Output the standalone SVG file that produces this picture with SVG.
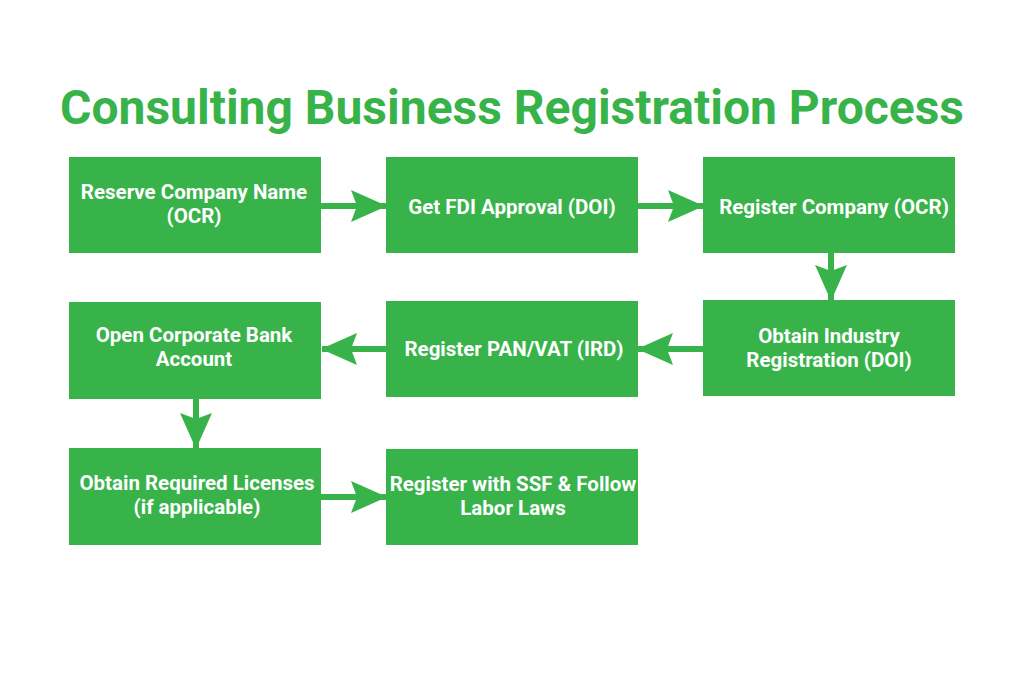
<svg xmlns="http://www.w3.org/2000/svg" width="1024" height="683" viewBox="0 0 1024 683">
<style>
.box{fill:#37b34a}
.t{font-family:Roboto,"Liberation Sans",sans-serif;font-weight:bold;font-size:20.5px;fill:#ffffff;text-anchor:middle}
.title{font-family:Roboto,"Liberation Sans",sans-serif;font-weight:bold;font-size:48px;fill:#37b34a;text-anchor:middle}
.c{stroke:#37b34a;stroke-width:6;fill:none}
</style>
<defs>
<marker id="ah" viewBox="0 0 36 32" refX="35" refY="16" markerWidth="36" markerHeight="32" orient="auto" markerUnits="userSpaceOnUse">
<path d="M0,0 L36,16 L0,32 L6,16 Z" fill="#37b34a"/>
</marker>
</defs>
<rect width="1024" height="683" fill="#ffffff"/>
<text class="title" x="512" y="124">Consulting Business Registration Process</text>
<g id="connectors">
<line class="c" x1="321" y1="206" x2="386" y2="206" marker-end="url(#ah)"/>
<line class="c" x1="638" y1="206" x2="703" y2="206" marker-end="url(#ah)"/>
<line class="c" x1="831" y1="253" x2="831" y2="300" marker-end="url(#ah)"/>
<line class="c" x1="703" y1="349" x2="638" y2="349" marker-end="url(#ah)"/>
<line class="c" x1="386" y1="349" x2="322" y2="349" marker-end="url(#ah)"/>
<line class="c" x1="196" y1="399" x2="196" y2="448" marker-end="url(#ah)"/>
<line class="c" x1="321" y1="497" x2="386" y2="497" marker-end="url(#ah)"/>
</g>
<g id="n1"><rect class="box" x="69" y="157" width="252" height="96"/>
<text class="t" x="194" y="199">Reserve Company Name</text><text class="t" x="194" y="223">(OCR)</text></g>
<g id="n2"><rect class="box" x="386" y="157" width="252" height="96"/>
<text class="t" x="512" y="214">Get FDI Approval (DOI)</text></g>
<g id="n3"><rect class="box" x="703" y="157" width="252" height="96"/>
<text class="t" x="834" y="214">Register Company (OCR)</text></g>
<g id="n4"><rect class="box" x="703" y="300" width="252" height="96"/>
<text class="t" x="829" y="343">Obtain Industry</text><text class="t" x="829" y="367">Registration (DOI)</text></g>
<g id="n5"><rect class="box" x="386" y="301" width="252" height="96"/>
<text class="t" x="514" y="356">Register PAN/VAT (IRD)</text></g>
<g id="n6"><rect class="box" x="69" y="302" width="252" height="97"/>
<text class="t" x="194" y="342">Open Corporate Bank</text><text class="t" x="194" y="366">Account</text></g>
<g id="n7"><rect class="box" x="69" y="448" width="252" height="97"/>
<text class="t" x="197" y="490">Obtain Required Licenses</text><text class="t" x="197" y="514">(if applicable)</text></g>
<g id="n8"><rect class="box" x="386" y="449" width="252" height="96"/>
<text class="t" x="513" y="491">Register with SSF &amp; Follow</text><text class="t" x="513" y="515">Labor Laws</text></g>
</svg>
